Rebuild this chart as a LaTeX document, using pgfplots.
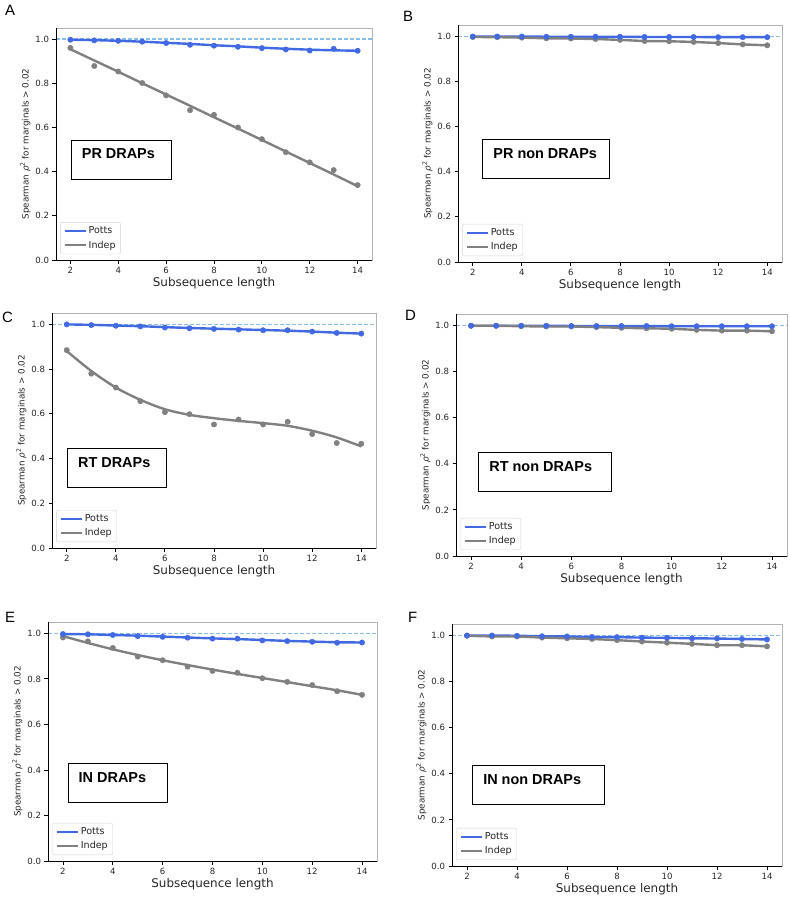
\documentclass[border=0pt]{standalone}
\usepackage{fontspec}
\setmainfont{DejaVu Sans}
\newfontfamily\arialfont{Liberation Sans}
\usepackage{pgfplots}
\usepackage{pgfplotstable}
\pgfplotsset{compat=1.18}
\definecolor{potts}{RGB}{65,105,225}
\definecolor{indep}{RGB}{128,128,128}
\definecolor{refl}{RGB}{135,190,232}

% x  potts  indep  pfit  ifit
\pgfplotstableread{
x potts indep pfit ifit
2 0.997 0.960 0.997 0.954
3 0.994 0.878 0.995 0.903
4 0.992 0.853 0.992 0.852
5 0.988 0.801 0.988 0.800
6 0.982 0.745 0.983 0.749
7 0.974 0.678 0.978 0.698
8 0.970 0.657 0.972 0.646
9 0.965 0.600 0.967 0.595
10 0.959 0.547 0.961 0.543
11 0.953 0.488 0.956 0.491
12 0.948 0.442 0.952 0.439
13 0.956 0.407 0.949 0.387
14 0.947 0.339 0.947 0.334
}\dataA
\pgfplotstableread{
x potts indep pfit ifit
2 0.999 0.997 0.999 0.997
3 0.999 0.996 0.999 0.996
4 0.999 0.994 0.999 0.994
5 0.998 0.991 0.998 0.991
6 0.998 0.990 0.998 0.990
7 0.998 0.988 0.998 0.988
8 0.998 0.984 0.998 0.984
9 0.997 0.979 0.997 0.979
10 0.997 0.978 0.997 0.978
11 0.997 0.975 0.997 0.975
12 0.996 0.970 0.996 0.970
13 0.996 0.964 0.996 0.964
14 0.996 0.960 0.996 0.960
}\dataB
\pgfplotstableread{
x potts indep pfit ifit
2 0.999 0.884 0.999 0.880
3 0.996 0.779 0.997 0.791
4 0.993 0.717 0.994 0.717
5 0.990 0.656 0.991 0.662
6 0.985 0.607 0.987 0.620
7 0.982 0.598 0.983 0.595
8 0.979 0.552 0.980 0.580
9 0.976 0.574 0.977 0.568
10 0.973 0.552 0.974 0.558
11 0.973 0.564 0.971 0.546
12 0.967 0.509 0.967 0.524
13 0.961 0.469 0.962 0.494
14 0.958 0.466 0.958 0.454
}\dataC
\pgfplotstableread{
x potts indep pfit ifit
2 0.999 0.999 0.999 0.999
3 0.999 0.999 0.999 0.999
4 0.999 0.997 0.999 0.997
5 0.999 0.996 0.999 0.996
6 0.998 0.996 0.998 0.996
7 0.998 0.993 0.998 0.993
8 0.998 0.990 0.998 0.990
9 0.998 0.988 0.998 0.988
10 0.997 0.986 0.997 0.986
11 0.997 0.981 0.997 0.981
12 0.997 0.978 0.997 0.978
13 0.997 0.978 0.997 0.978
14 0.997 0.975 0.997 0.975
}\dataD
\pgfplotstableread{
x potts indep pfit ifit
2 0.997 0.982 0.997 0.988
3 0.996 0.965 0.996 0.958
4 0.993 0.936 0.993 0.930
5 0.988 0.898 0.990 0.905
6 0.985 0.882 0.986 0.882
7 0.981 0.854 0.982 0.861
8 0.977 0.835 0.978 0.841
9 0.977 0.827 0.975 0.822
10 0.969 0.803 0.971 0.804
11 0.966 0.787 0.967 0.786
12 0.963 0.773 0.964 0.768
13 0.959 0.746 0.961 0.750
14 0.960 0.730 0.960 0.730
}\dataE
\pgfplotstableread{
x potts indep pfit ifit
2 1.000 0.999 1.000 0.999
3 1.000 0.996 1.000 0.996
4 0.999 0.996 0.999 0.996
5 0.997 0.991 0.997 0.991
6 0.996 0.988 0.996 0.988
7 0.994 0.985 0.994 0.985
8 0.993 0.980 0.993 0.980
9 0.991 0.974 0.991 0.974
10 0.990 0.969 0.990 0.969
11 0.988 0.964 0.988 0.964
12 0.987 0.958 0.987 0.958
13 0.985 0.958 0.985 0.958
14 0.983 0.953 0.983 0.953
}\dataF

\pgfplotsset{panel/.style={
  scale only axis, anchor=south west, clip=false,
  xmin=1.4, xmax=14.6, ymin=0, ymax=1.05,
  xtick={2,4,...,14}, ytick={0,0.2,0.4,0.6,0.8,1.0},
  /pgf/number format/assume math mode=true,
  yticklabel style={/pgf/number format/.cd,fixed,fixed zerofill,precision=1},
  tick align=outside, tick pos=left,
  major tick length=3.5bp,
  tick style={black, line width=0.9bp},
  axis line style={draw=gray!60, line width=0.8bp},
  ticklabel style={font=\fontsize{8.6}{10}\selectfont, text=black!85},
  xlabel={Subsequence length},
  ylabel={Spearman \textit{ρ}\textsuperscript{2} for marginals > 0.02},
  xlabel style={font=\fontsize{12}{14}\selectfont, text=black!85, yshift=3bp},
  ylabel style={font=\fontsize{8.8}{10}\selectfont, text=black!85, yshift=-2bp},
  legend style={at={(0.013,0.025)}, anchor=south west, draw=gray!35,
    rounded corners=2bp, font=\fontsize{9.6}{11}\selectfont, text=black!85,
    inner xsep=3bp, inner ysep=2.5bp, row sep=1.5bp},
  legend cell align=left,
  legend image code/.code={\draw[#1, line width=2.4bp] (0bp,0bp) -- (21bp,0bp);},
}}
\newcommand\spines{\draw[black, line width=0.9bp] (rel axis cs:0,1) -- (rel axis cs:0,0) -- (rel axis cs:1,0);}
\newcommand\series[2]{%
  \addplot[refl, dash pattern=on 4bp off 2bp, line width=1.1bp, forget plot] coordinates {(1.4,1) (14.6,1)};
  \addplot[potts, line width=2.4bp, #2] table[x=x,y=pfit]{#1}; \addlegendentry{Potts}
  \addplot[indep, line width=2.4bp, #2] table[x=x,y=ifit]{#1}; \addlegendentry{Indep}
  \addplot[only marks, mark=*, mark size=2.7bp, indep, forget plot] table[x=x,y=indep]{#1};
  \addplot[only marks, mark=*, mark size=2.7bp, potts, forget plot] table[x=x,y=potts]{#1};
  \spines}
\newcommand\tbox[5]{% relx rely width text name
  \node[draw=black, line width=0.8bp, minimum width=#3, minimum height=39bp, inner sep=0] (#5) at (rel axis cs:#1,#2) {};
  \node[anchor=north west, inner sep=0, font=\arialfont\bfseries\fontsize{14.5}{16}\selectfont] at ([xshift=11bp,yshift=-9bp]#5.north west) {#4};}

\begin{document}
\begin{tikzpicture}
\path[use as bounding box] (0,0) rectangle (790bp,-899bp);
\tikzset{plab/.style={anchor=north west, inner sep=0, font=\arialfont\fontsize{15}{15}\selectfont}}
\node[plab] at (5bp,-5bp) {A};
\node[plab] at (403bp,-11bp) {B};
\node[plab] at (2bp,-312bp) {C};
\node[plab] at (405bp,-310bp) {D};
\node[plab] at (5bp,-612bp) {E};
\node[plab] at (408bp,-612bp) {F};

\begin{axis}[panel, at={(56bp,-260bp)}, width=316bp, height=232bp]
\series{\dataA}{smooth}
\tbox{0.206}{0.433}{100bp}{PR DRAPs}{bA}
\end{axis}

\begin{axis}[panel, at={(458bp,-262bp)}, width=324bp, height=237bp]
\series{\dataB}{}
\tbox{0.272}{0.433}{127bp}{PR non DRAPs}{bB}
\end{axis}

\begin{axis}[panel, at={(52bp,-548bp)}, width=324bp, height=235bp]
\series{\dataC}{smooth}
\tbox{0.200}{0.339}{99bp}{RT DRAPs}{bC}
\end{axis}

\begin{axis}[panel, at={(456bp,-556bp)}, width=331bp, height=242bp]
\series{\dataD}{}
\tbox{0.269}{0.346}{133bp}{RT non DRAPs}{bD}
\end{axis}

\begin{axis}[panel, at={(48bp,-861bp)}, width=329bp, height=239bp]
\series{\dataE}{smooth}
\tbox{0.211}{0.325}{99bp}{IN DRAPs}{bE}
\end{axis}

\begin{axis}[panel, at={(452bp,-866bp)}, width=330bp, height=242bp]
\series{\dataF}{}
\tbox{0.262}{0.335}{132bp}{IN non DRAPs}{bF}
\end{axis}
\end{tikzpicture}
\end{document}
